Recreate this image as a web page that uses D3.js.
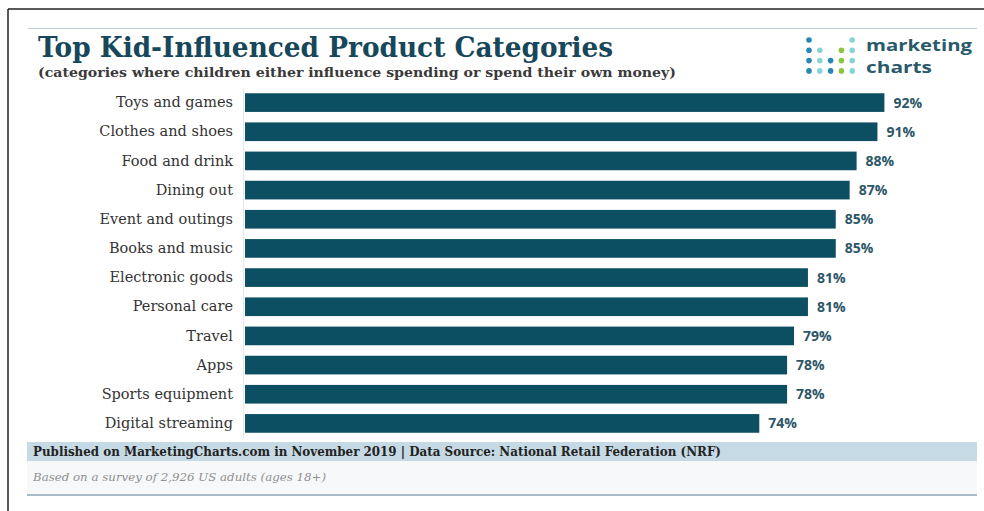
<!DOCTYPE html>
<html>
<head>
<meta charset="UTF-8">
<title>Top Kid-Influenced Product Categories</title>
<script src="https://cdn.jsdelivr.net/npm/d3@7"></script>
<style>
  body { margin: 0; background: #fff; }
  .cat text { font-family: "DejaVu Serif", serif; font-size: 14.5px; fill: #333; }
  .cat .domain { stroke: #e4e8ea; }
</style>
</head>
<body>
<div id="chart"></div>
<script>
// data
var categories = ["Toys and games", "Clothes and shoes", "Food and drink", "Dining out",
  "Event and outings", "Books and music", "Electronic goods", "Personal care",
  "Travel", "Apps", "Sports equipment", "Digital streaming"];
var values = [92, 91, 88, 87, 85, 85, 81, 81, 79, 78, 78, 74];

var title = "Top Kid-Influenced Product Categories";
var subtitle = "(categories where children either influence spending or spend their own money)";
var source = "Published on MarketingCharts.com in November 2019 | Data Source: National Retail Federation (NRF)";
var note = "Based on a survey of 2,926 US adults (ages 18+)";

var width = 984, height = 511;
var barColor = "#0c4e62";

var svg = d3.select("#chart").append("svg")
  .attr("width", width)
  .attr("height", height);

// frame
svg.append("line").attr("x1", 8).attr("y1", 9).attr("x2", width).attr("y2", 9)
  .attr("stroke", "#222").attr("stroke-width", 1.5);
svg.append("line").attr("x1", 8).attr("y1", 9).attr("x2", 8).attr("y2", height)
  .attr("stroke", "#222").attr("stroke-width", 1.5);

// top rule
svg.append("line").attr("x1", 28).attr("y1", 28.5).attr("x2", 977).attr("y2", 28.5)
  .attr("stroke", "#b9d0dc").attr("stroke-width", 1.2);

// title
svg.append("text").attr("x", 38).attr("y", 57)
  .attr("font-family", "DejaVu Serif, serif").attr("font-weight", "bold")
  .attr("font-size", 27).attr("fill", "#17475a")
  .attr("textLength", 575).attr("lengthAdjust", "spacingAndGlyphs")
  .text(title);
svg.append("text").attr("x", 38).attr("y", 77)
  .attr("font-family", "DejaVu Serif, serif").attr("font-weight", "bold")
  .attr("font-size", 13.5).attr("fill", "#3a3a3a")
  .attr("textLength", 638).attr("lengthAdjust", "spacingAndGlyphs")
  .text(subtitle);

// logo
var dotBlue = "#2589b3", dotLight = "#86d3d8", dotGreen = "#8cc63f";
var logoRows = [
  [dotBlue, null, null, null, dotLight],
  [dotBlue, dotLight, null, dotGreen, dotLight],
  [dotBlue, dotLight, dotBlue, dotGreen, dotLight],
  [dotBlue, dotLight, dotBlue, dotGreen, dotLight]
];
var logo = svg.append("g");
logoRows.forEach(function(row, r) {
  row.forEach(function(c, i) {
    if (!c) return;
    logo.append("circle")
      .attr("cx", 809 + i * 10.8).attr("cy", 40 + r * 10.3)
      .attr("r", 2.8).attr("fill", c);
  });
});
logo.append("text").attr("x", 866).attr("y", 51)
  .attr("font-family", "Open Sans, sans-serif").attr("font-weight", "bold")
  .attr("font-size", 15.5).attr("fill", "#2a5a6a")
  .attr("textLength", 106).attr("lengthAdjust", "spacingAndGlyphs")
  .text("marketing");
logo.append("text").attr("x", 866).attr("y", 72.5)
  .attr("font-family", "Open Sans, sans-serif").attr("font-weight", "bold")
  .attr("font-size", 15.5).attr("fill", "#2a5a6a")
  .attr("textLength", 66).attr("lengthAdjust", "spacingAndGlyphs")
  .text("charts");

// scales
var x = d3.scaleLinear().domain([0, 100]).range([245, 940]);
var y = d3.scaleBand().domain(categories).range([88, 438])
  .paddingInner(0.36).paddingOuter(0.18);

// category axis
svg.append("g")
  .attr("class", "cat")
  .attr("transform", "translate(243,0)")
  .call(d3.axisLeft(y).tickSize(0).tickSizeOuter(0).tickPadding(10));

// bars
svg.selectAll(".bar")
  .data(values)
  .enter().append("rect")
  .attr("class", "bar")
  .attr("x", x(0))
  .attr("y", function(d, i) { return y(categories[i]); })
  .attr("width", function(d) { return x(d) - x(0); })
  .attr("height", y.bandwidth())
  .attr("fill", barColor);

// value labels
svg.selectAll(".val")
  .data(values)
  .enter().append("text")
  .attr("class", "val")
  .attr("x", function(d) { return x(d) + 9; })
  .attr("y", function(d, i) { return y(categories[i]) + y.bandwidth() / 2; })
  .attr("dy", "0.36em")
  .attr("font-family", "Open Sans, sans-serif").attr("font-weight", "bold")
  .attr("font-size", 14).attr("fill", "#2d5667")
  .text(function(d) { return d + "%"; });

// footer
svg.append("rect").attr("x", 27).attr("y", 442).attr("width", 950).attr("height", 19)
  .attr("fill", "#c6dae5");
svg.append("rect").attr("x", 27).attr("y", 461).attr("width", 950).attr("height", 33)
  .attr("fill", "#f7f8fa");
svg.append("rect").attr("x", 27).attr("y", 494).attr("width", 950).attr("height", 2)
  .attr("fill", "#a7bcc8");
svg.append("text").attr("x", 33).attr("y", 456)
  .attr("font-family", "DejaVu Serif, serif").attr("font-weight", "bold")
  .attr("font-size", 12).attr("fill", "#222")
  .attr("textLength", 688).attr("lengthAdjust", "spacingAndGlyphs")
  .text(source);
svg.append("text").attr("x", 33).attr("y", 481)
  .attr("font-family", "DejaVu Serif, serif").attr("font-style", "italic")
  .attr("font-size", 11.5).attr("fill", "#8f8f8f")
  .attr("textLength", 293).attr("lengthAdjust", "spacingAndGlyphs")
  .text(note);
</script>
</body>
</html>
